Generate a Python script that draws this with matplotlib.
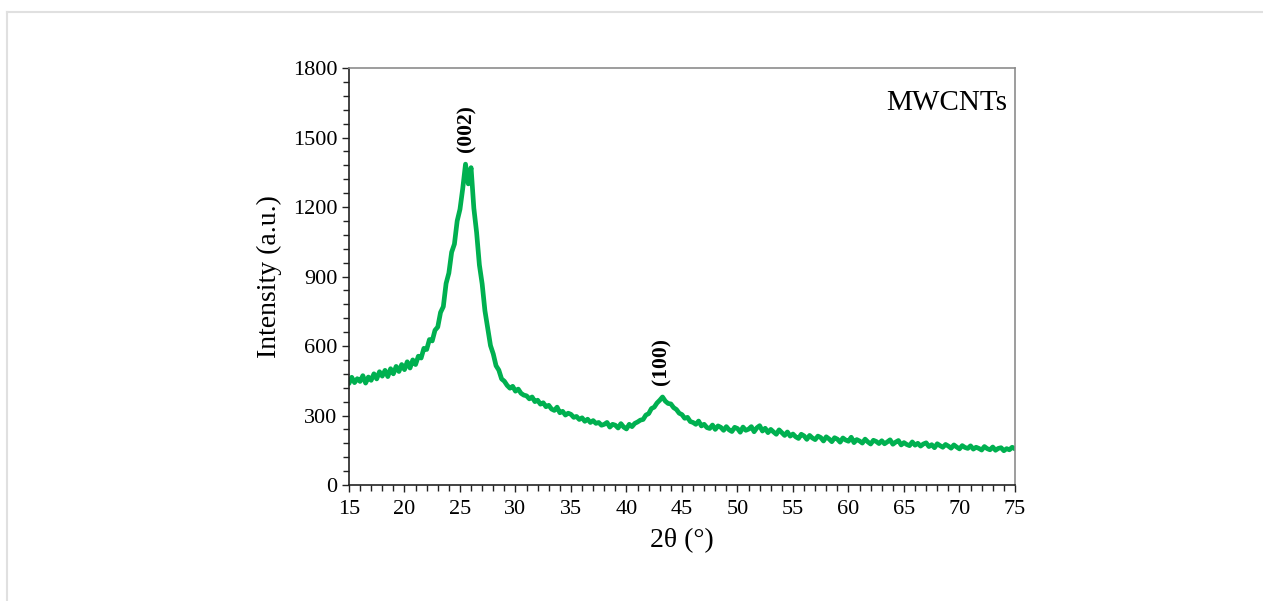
import numpy as np
import matplotlib.pyplot as plt
from matplotlib.lines import Line2D
from matplotlib.ticker import MultipleLocator

plt.rcParams['font.family'] = ['Liberation Serif', 'DejaVu Serif']

# XRD scan of MWCNTs, 0.25 deg step
two_theta = np.arange(15.0, 75.0 + 0.001, 0.25)
intensity = [
    438, 465, 442, 459, 447, 472, 440, 466,
    452, 480, 458, 489, 470, 495, 468, 502,
    480, 512, 490, 520, 498, 532, 505, 540,
    520, 556, 548, 590, 585, 628, 622, 668,
    682, 745, 770, 870, 915, 1005, 1040, 1140,
    1190, 1280, 1385, 1300, 1370, 1195, 1090, 950,
    868, 752, 678, 602, 566, 515, 496, 458,
    448, 430, 418, 426, 405, 414, 396, 388,
    385, 372, 380, 360, 366, 349, 355, 338,
    344, 328, 322, 336, 312, 318, 302, 310,
    305, 292, 296, 283, 290, 275, 284, 270,
    278, 266, 270, 258, 262, 270, 250, 262,
    258, 246, 265, 250, 242, 262, 252, 266,
    272, 280, 283, 302, 308, 330, 336, 354,
    366, 380, 362, 352, 350, 334, 326, 310,
    304, 288, 292, 274, 270, 262, 276, 255,
    262, 248, 244, 259, 240, 255, 249, 236,
    252, 238, 231, 249, 244, 228, 250, 236,
    241, 252, 230, 247, 256, 233, 245, 226,
    240, 229, 219, 238, 226, 214, 229, 211,
    220, 208, 201, 219, 212, 197, 214, 203,
    196, 211, 205, 190, 208, 199, 187, 204,
    198, 185, 203, 194, 189, 206, 183, 196,
    190, 181, 198, 186, 177, 193, 188, 179,
    191, 178, 186, 195, 176, 185, 192, 173,
    183, 175, 170, 186, 172, 180, 168, 177,
    182, 166, 174, 161, 178, 170, 163, 175,
    168, 159, 173, 164, 156, 170, 162, 158,
    169, 155, 163, 158, 151, 166, 157, 152,
    164, 150, 158, 161, 148, 157, 152, 163,
    156,
]

peak_labels = ['(002)', '(100)']
peak_pos = [25.6, 43.2]
peak_label_y = [1540, 535]

fig = plt.figure(figsize=(12.63, 6.01), dpi=100)
ax = fig.add_axes([0.2763, 0.1930, 0.5273, 0.6938])

ax.plot(two_theta, intensity, color='#00B050', lw=3.4,
        solid_joinstyle='round', solid_capstyle='round')

for lab, x, y in zip(peak_labels, peak_pos, peak_label_y):
    ax.text(x, y, lab, rotation=90, ha='center', va='center',
            fontsize=15.5, fontweight='bold')

ax.text(74.3, 1650, 'MWCNTs', ha='right', va='center', fontsize=21)

ax.set_xlim(15, 75)
ax.set_ylim(0, 1800)
ax.xaxis.set_major_locator(MultipleLocator(5))
ax.xaxis.set_minor_locator(MultipleLocator(1))
ax.yaxis.set_major_locator(MultipleLocator(300))
ax.yaxis.set_minor_locator(MultipleLocator(60))
ax.tick_params(which='both', direction='out', labelsize=16, width=1, color='#222222')
ax.tick_params(which='major', length=5)
ax.tick_params(which='minor', length=4)
ax.tick_params(axis='x', pad=6)

for s in ['left', 'bottom']:
    ax.spines[s].set_color('#222222')
    ax.spines[s].set_linewidth(1.2)
for s in ['top', 'right']:
    ax.spines[s].set_color('#8c8c8c')
    ax.spines[s].set_linewidth(1.2)

ax.set_xlabel('2θ (°)', fontsize=20, labelpad=6)
ax.set_ylabel('Intensity (a.u.)', fontsize=20, labelpad=8)

# light frame around the panel
fig.add_artist(Line2D([7 / 1263, 7 / 1263], [0, 1 - 12 / 601],
                      transform=fig.transFigure, color='#e0e0e0', lw=1.5))
fig.add_artist(Line2D([7 / 1263, 1], [1 - 12 / 601, 1 - 12 / 601],
                      transform=fig.transFigure, color='#e0e0e0', lw=1.5))

fig.savefig('out.png', dpi=100)
